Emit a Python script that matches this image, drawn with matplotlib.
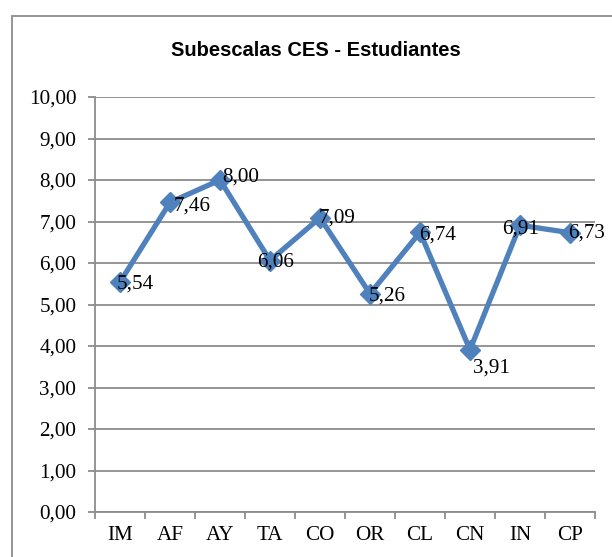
import matplotlib
matplotlib.use("Agg")
import matplotlib.pyplot as plt
from matplotlib.patches import Rectangle
import numpy as np

categories = ["IM", "AF", "AY", "TA", "CO", "OR", "CL", "CN", "IN", "CP"]
values = [5.54, 7.46, 8.00, 6.06, 7.09, 5.26, 6.74, 3.91, 6.91, 6.73]
yticks = [0, 1, 2, 3, 4, 5, 6, 7, 8, 9, 10]
title = "Subescalas CES - Estudiantes"

# label offsets in pixels (dx of left edge, dy of center; negative = down)
label_offsets = [(-3, -2), (4, -4), (2, 3), (-13, -2), (-1, 0),
                 (-1, -2), (-1, -3), (3, -18), (-18, -4), (-2, 0)]

fig = plt.figure(figsize=(6.12, 5.57), dpi=100)
ax = fig.add_axes([95/612, 1-512/557, 500/612, 415/557])

x = np.arange(len(categories))
blue = "#4F81BD"
ax.plot(x, values, color=blue, lw=3.8, marker="D", markersize=10,
        markerfacecolor=blue, markeredgecolor=blue, zorder=3, clip_on=False)

fs = 15.2
ax.set_xlim(-0.5, len(categories) - 0.5)
ax.set_ylim(0, 10)
ax.set_yticks(yticks)
ax.set_yticklabels([f"{v:.2f}".replace(".", ",") for v in yticks],
                   family="Liberation Serif", fontsize=fs)
ax.set_xticks(x)
ax.set_xticklabels(categories, family="Liberation Serif", fontsize=fs)
ax.set_xticks(np.arange(-0.5, len(categories)), minor=True)

grid_c = "#8C8C8C"
ax.yaxis.grid(True, color=grid_c, lw=1.3)
ax.set_axisbelow(True)
for s in ["top", "right"]:
    ax.spines[s].set_visible(False)
for s in ["left", "bottom"]:
    ax.spines[s].set_color(grid_c)
    ax.spines[s].set_linewidth(1.3)
ax.tick_params(axis="x", which="major", length=0, pad=10)
ax.tick_params(axis="x", which="minor", length=5, color=grid_c, width=1.3)
ax.tick_params(axis="y", length=5, color=grid_c, width=1.3, pad=8.5)

for xi, v, (dx, dy) in zip(x, values, label_offsets):
    ax.annotate(f"{v:.2f}".replace(".", ","), (xi, v), xytext=(dx * 0.72, dy * 0.72),
                textcoords="offset points", ha="left", va="center",
                family="Liberation Serif", fontsize=fs, zorder=4)

fig.text(316/612, 1-50/557, title, ha="center", va="center",
         family="Liberation Sans", fontweight="bold", fontsize=14.5)

fig.patches.append(Rectangle((12/612, -0.2), 1.2, 1.2 - 16/557,
                             transform=fig.transFigure, fill=False,
                             edgecolor="#8C8C8C", lw=1.3))

fig.savefig("out.png", dpi=100)
